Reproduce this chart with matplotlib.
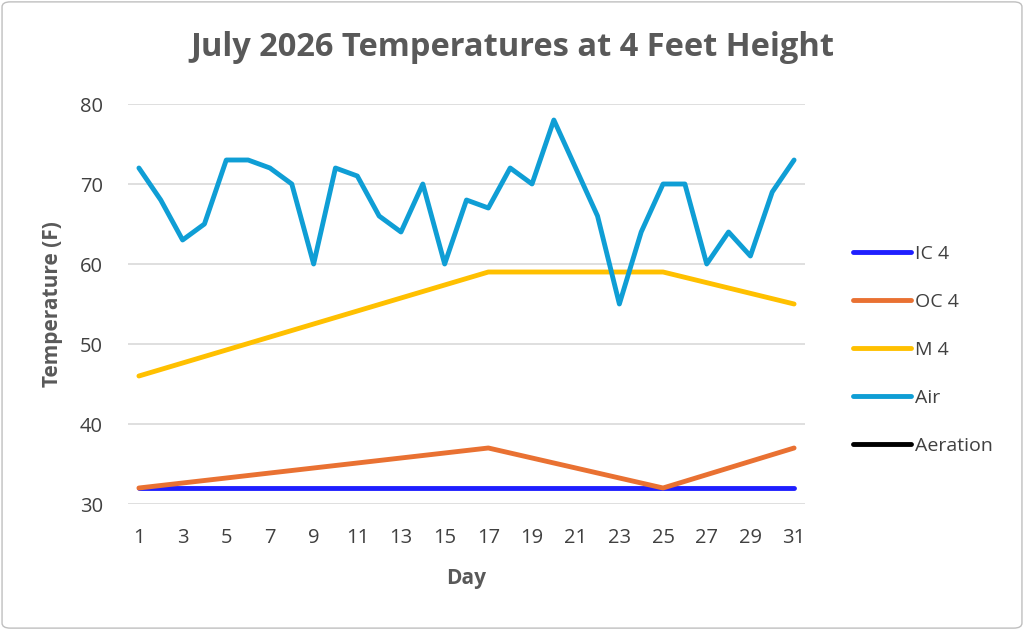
import numpy as np
import matplotlib
matplotlib.use("Agg")
import matplotlib.pyplot as plt
from matplotlib.patches import FancyBboxPatch

plt.rcParams['font.family'] = ['Open Sans', 'DejaVu Sans']

days = list(range(1, 32))
air = [72, 68, 63, 65, 73, 73, 72, 70, 60, 72, 71, 66, 64, 70, 60, 68,
       67, 72, 70, 78, 72, 66, 55, 64, 70, 70, 60, 64, 61, 69, 73]
# Sparse readings (other days blank; chart connects across blanks)
ic4_days = [1, 17, 25, 31]
ic4 = [32, 32, 32, 32]
oc4_days = [1, 17, 25, 31]
oc4 = [32, 37, 32, 37]
m4_days = [1, 17, 25, 31]
m4 = [46, 59, 59, 55]
aeration_days = []
aeration = []

series = [
    ("IC 4", ic4_days, ic4, "#1F1FFF"),
    ("OC 4", oc4_days, oc4, "#E97132"),
    ("M 4", m4_days, m4, "#FFC000"),
    ("Air", days, air, "#0F9ED5"),
    ("Aeration", aeration_days, aeration, "#000000"),
]

fig = plt.figure(figsize=(10.24, 6.3), dpi=100)
ax = fig.add_axes([128/1024, 1 - 504/630, (805-128)/1024, (504-104)/630])

for name, xs, ys, col in series:
    ax.plot(xs, ys, color=col, lw=3.5, label=name, solid_capstyle='round',
            solid_joinstyle='round')

ax.set_xlim(0.5, 31.5)
ax.set_ylim(30, 80)
ax.set_xticks(range(1, 32, 2))
ax.set_yticks(range(30, 81, 10))
ax.grid(axis='y', color='#D9D9D9', lw=1.2)
ax.set_axisbelow(True)
for s in ax.spines.values():
    s.set_visible(False)
ax.tick_params(length=0, labelsize=14.5, colors='#404040')
ax.tick_params(axis='x', pad=17)
ax.tick_params(axis='y', pad=18)

ax.set_xlabel("Day", fontsize=15, fontweight='bold', color='#595959', labelpad=15)
ax.set_ylabel("Temperature (F)", fontsize=15, fontweight='bold', color='#595959', labelpad=12)

fig.text(0.5, 1 - 47/630, "July 2026 Temperatures at 4 Feet Height", ha='center', va='center',
         fontsize=23.5, fontweight='bold', color='#595959')

leg = ax.legend(loc='center left', bbox_to_anchor=(1.045, 0.385), frameon=False,
                fontsize=14, handlelength=3.0, handletextpad=0.2, labelspacing=1.55)
for t in leg.get_texts():
    t.set_color('#404040')

border = FancyBboxPatch((0.002, 0.003), 0.996, 0.994, boxstyle="round,pad=0,rounding_size=0.008",
                        transform=fig.transFigure, fill=False, edgecolor='#BFBFBF', lw=1)
fig.patches.append(border)

fig.savefig("out.png", dpi=100)
